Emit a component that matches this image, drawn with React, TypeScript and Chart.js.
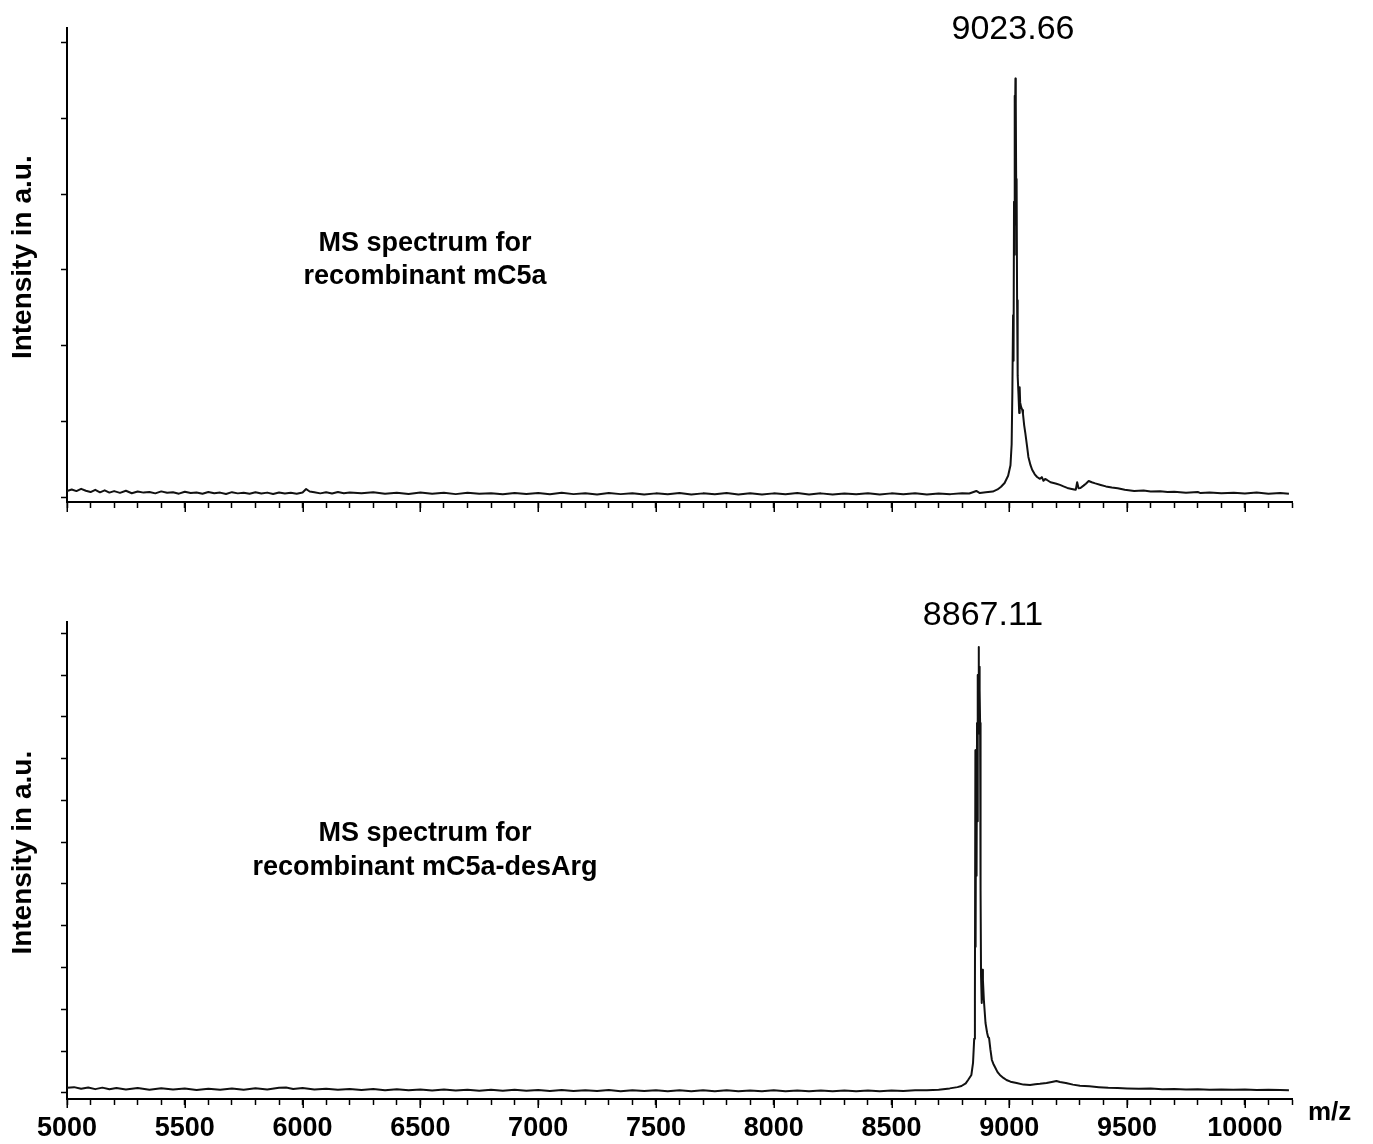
import React, { useEffect, useRef } from 'react';
import { Chart, registerables } from 'chart.js';

Chart.register(...registerables);

const FONT = '"Liberation Sans", Arial, Helvetica, sans-serif';

// ---------- axis data ----------
const X_MIN = 5000;
const X_MAX = 10200;
const X_MINOR_STEP = 100;
const X_MAJOR = [5000, 5500, 6000, 6500, 7000, 7500, 8000, 8500, 9000, 9500, 10000];
const TOP_Y_TICKS = [0, 1000, 2000, 3000, 4000, 5000, 6000];
const BOT_Y_TICKS = [0, 1000, 2000, 3000, 4000, 5000, 6000, 7000, 8000, 9000, 10000, 11000];
const Y_TITLE = '  Intensity in a.u.';

// ---------- spectrum 1 : recombinant mC5a ----------
const TOP_MZ = [
  5000, 5020, 5040, 5060, 5080, 5100, 5120, 5140, 5160, 5180, 5200, 5225, 5250, 5275, 5300, 5325,
  5350, 5375, 5400, 5425, 5450, 5475, 5500, 5525, 5550, 5575, 5600, 5625, 5650, 5675, 5700, 5725,
  5750, 5775, 5800, 5825, 5850, 5875, 5900, 5925, 5950, 5975, 6000, 6015, 6030, 6050, 6075, 6100,
  6125, 6150, 6175, 6200, 6250, 6300, 6350, 6400, 6450, 6500, 6550, 6600, 6650, 6700, 6750, 6800,
  6850, 6900, 6950, 7000, 7050, 7100, 7150, 7200, 7250, 7300, 7350, 7400, 7450, 7500, 7550, 7600,
  7650, 7700, 7750, 7800, 7850, 7900, 7950, 8000, 8050, 8100, 8150, 8200, 8250, 8300, 8350, 8400,
  8450, 8500, 8550, 8600, 8650, 8700, 8750, 8800, 8830, 8860, 8875, 8900, 8930, 8950, 8965, 8980,
  8995, 9005, 9010, 9013, 9016, 9018, 9020, 9022, 9023, 9024, 9026, 9027, 9028, 9030, 9031, 9033,
  9035, 9036, 9039, 9042, 9044, 9046, 9050, 9055, 9058, 9063, 9068, 9075, 9081, 9090, 9097, 9108,
  9118, 9130, 9138, 9145, 9152, 9160, 9175, 9188, 9200, 9215, 9230, 9246, 9260, 9275, 9282, 9288,
  9294, 9302, 9315, 9325, 9337, 9350, 9365, 9388, 9410, 9435, 9460, 9490, 9530, 9570, 9600, 9640,
  9672, 9700, 9750, 9800, 9812, 9850, 9900, 9953, 10000, 10050, 10100, 10150, 10187,
];
const TOP_INT = [
  80, 100, 78, 108, 82, 65, 95, 62, 88, 58, 78, 55, 82, 50, 72, 58,
  66, 48, 74, 55, 62, 44, 70, 52, 60, 42, 66, 50, 58, 40, 64, 48,
  56, 42, 62, 46, 58, 40, 60, 45, 55, 44, 60, 105, 72, 64, 48, 62,
  46, 66, 50, 58, 48, 62, 44, 56, 40, 58, 42, 55, 38, 56, 42, 50,
  36, 54, 40, 52, 36, 55, 38, 50, 34, 52, 38, 50, 32, 48, 36, 52,
  32, 48, 36, 52, 34, 50, 32, 48, 36, 52, 34, 48, 32, 46, 36, 50,
  32, 48, 36, 50, 34, 46, 38, 50, 46, 80, 52, 62, 72, 100, 135, 185,
  280, 420, 700, 1400, 2400, 1800, 3900, 3200, 5300, 4500, 5530, 4900, 5200, 3600, 4200, 2600,
  2000, 1600, 1350, 1110, 1450, 1250, 1190, 1150, 1100, 950, 845, 680, 530, 420, 360, 300,
  264, 240, 262, 215, 238, 225, 195, 185, 175, 160, 140, 120, 110, 100, 95, 195,
  115, 119, 150, 175, 211, 195, 180, 159, 140, 125, 115, 95, 80, 85, 72, 76,
  66, 70, 56, 66, 52, 60, 48, 56, 46, 58, 44, 52, 42,
];

// ---------- spectrum 2 : recombinant mC5a-desArg ----------
const BOT_MZ = [
  5000, 5030, 5060, 5090, 5120, 5150, 5180, 5210, 5250, 5300, 5350, 5400, 5450, 5500, 5550, 5600,
  5650, 5700, 5750, 5800, 5850, 5900, 5930, 5960, 6000, 6050, 6100, 6150, 6200, 6250, 6300, 6350,
  6400, 6450, 6500, 6550, 6600, 6650, 6700, 6750, 6800, 6850, 6900, 6950, 7000, 7050, 7100, 7150,
  7200, 7250, 7300, 7350, 7400, 7450, 7500, 7550, 7600, 7650, 7700, 7750, 7800, 7850, 7900, 7950,
  8000, 8050, 8100, 8150, 8200, 8250, 8300, 8350, 8400, 8450, 8500, 8550, 8600, 8650, 8700, 8747,
  8780, 8797, 8815, 8825, 8839, 8846, 8851, 8854, 8856, 8857, 8859, 8861, 8863, 8865, 8867, 8869,
  8870, 8871, 8872, 8874, 8876, 8877, 8878, 8879, 8880, 8883, 8886, 8888, 8892, 8899, 8904, 8906,
  8910, 8914, 8920, 8926, 8932, 8939, 8950, 8960, 8975, 8988, 9005, 9031, 9060, 9088, 9110, 9130,
  9158, 9180, 9200, 9215, 9240, 9270, 9300, 9340, 9380, 9420, 9460, 9500, 9550, 9600, 9650, 9700,
  9750, 9800, 9850, 9900, 9950, 10000, 10050, 10100, 10150, 10187,
];
const BOT_INT = [
  125, 140, 100, 132, 92, 128, 88, 120, 84, 118, 78, 112, 82, 106, 74, 104,
  76, 110, 80, 112, 84, 124, 130, 96, 118, 86, 104, 80, 98, 72, 94, 68,
  90, 64, 86, 62, 84, 58, 80, 56, 78, 54, 76, 52, 72, 50, 70, 48,
  68, 46, 70, 44, 66, 46, 68, 42, 64, 44, 66, 42, 64, 44, 62, 42,
  64, 44, 62, 40, 60, 44, 62, 42, 60, 44, 62, 46, 64, 68, 76, 110,
  140, 167, 230, 311, 431, 718, 1300, 2200, 8200, 3500, 8000, 5200, 8852, 6500, 10000, 8600,
  10670, 9000, 10200, 9641, 8852, 6500, 6000, 4856, 2800, 2153, 2950, 2700, 2225, 1675, 1500, 1435,
  1340, 1316, 1029, 789, 700, 622, 500, 431, 360, 311, 270, 239, 200, 191, 210, 220,
  239, 265, 287, 263, 240, 200, 175, 160, 140, 125, 120, 110, 100, 106, 92, 96,
  85, 90, 80, 85, 78, 82, 72, 76, 70, 68,
];

const W = 1373;

type PanelProps = {
  mz: number[];
  intensity: number[];
  yMin: number;
  yMax: number;
  yTicks: number[];
  height: number;
  top: number;
  areaTop: number;
  areaBottom: number;
  showXLabels: boolean;
  majorLen: number;
  texts: { text: string; x: number; y: number; font: string; align: CanvasTextAlign }[];
};

const overlayPlugin = {
  id: 'overlay',
  afterDraw(chart: any, _args: any, opts: any) {
    const ctx = chart.ctx;
    const xs = chart.scales.x;
    const ca = chart.chartArea;
    ctx.save();
    ctx.strokeStyle = '#000';
    ctx.lineWidth = 1.5;
    for (const v of X_MAJOR) {
      const px = Math.round(xs.getPixelForValue(v)) + 0.25;
      ctx.beginPath();
      ctx.moveTo(px, ca.bottom);
      ctx.lineTo(px, ca.bottom + opts.majorLen);
      ctx.stroke();
    }
    ctx.fillStyle = '#000';
    ctx.textBaseline = 'alphabetic';
    for (const t of opts.texts || []) {
      ctx.font = t.font;
      ctx.textAlign = t.align;
      ctx.fillText(t.text, t.x, t.y);
    }
    ctx.restore();
  },
};

function Panel(p: PanelProps) {
  const ref = useRef<HTMLCanvasElement | null>(null);
  useEffect(() => {
    if (!ref.current) return;
    const xTicks: number[] = [];
    for (let v = X_MIN; v <= X_MAX; v += X_MINOR_STEP) xTicks.push(v);
    const data = p.mz.map((x, i) => ({ x, y: p.intensity[i] }));
    const chart = new Chart(ref.current, {
      type: 'line',
      data: {
        datasets: [
          {
            data,
            borderColor: '#111',
            borderWidth: 2,
            pointRadius: 0,
            fill: false,
            tension: 0,
            borderJoinStyle: 'round',
          } as any,
        ],
      },
      options: {
        animation: false,
        responsive: false,
        events: [],
        layout: { padding: { top: p.areaTop, right: 81, left: 0, bottom: 0 } },
        plugins: {
          legend: { display: false },
          tooltip: { enabled: false },
          overlay: { majorLen: p.majorLen, texts: p.texts },
        } as any,
        scales: {
          x: {
            type: 'linear',
            min: X_MIN,
            max: X_MAX,
            afterBuildTicks: (s: any) => {
              s.ticks = xTicks.map((v) => ({ value: v }));
            },
            afterFit: (s: any) => {
              s.height = p.height - p.areaBottom;
            },
            ticks: {
              display: p.showXLabels,
              autoSkip: false,
              maxRotation: 0,
              minRotation: 0,
              padding: 7,
              color: '#000',
              font: { family: FONT, size: 27, weight: 'bold' },
              callback: (v: any) => (X_MAJOR.includes(Number(v)) ? String(v) : ''),
            },
            grid: {
              drawOnChartArea: false,
              drawTicks: true,
              tickLength: 6,
              tickWidth: 1.5,
              tickColor: '#000',
            },
            border: { display: true, color: '#000', width: 2 },
          },
          y: {
            type: 'linear',
            min: p.yMin,
            max: p.yMax,
            afterBuildTicks: (s: any) => {
              s.ticks = p.yTicks.map((v) => ({ value: v }));
            },
            afterFit: (s: any) => {
              s.width = 67;
            },
            ticks: { display: false },
            grid: {
              drawOnChartArea: false,
              drawTicks: true,
              tickLength: 6,
              tickWidth: 1.5,
              tickColor: '#000',
            },
            border: { display: true, color: '#000', width: 2 },
            title: {
              display: true,
              text: Y_TITLE,
              color: '#000',
              font: { family: FONT, size: 28, weight: 'bold' },
              padding: { top: 6, bottom: 0 },
            },
          },
        },
      },
      plugins: [overlayPlugin as any],
    });
    return () => chart.destroy();
  }, []);
  return (
    <canvas
      ref={ref}
      width={W}
      height={p.height}
      style={{ position: 'absolute', left: 0, top: p.top, width: W, height: p.height }}
    />
  );
}

export default function App() {
  const bold27 = `bold 27px ${FONT}`;
  const reg34 = `34px ${FONT}`;
  return (
    <div
      style={{
        position: 'absolute',
        left: 0,
        top: 0,
        width: W,
        height: 1144,
        background: '#fff',
        overflow: 'hidden',
      }}
    >
      <Panel
        mz={TOP_MZ}
        intensity={TOP_INT}
        yMin={-66}
        yMax={6196}
        yTicks={TOP_Y_TICKS}
        height={560}
        top={0}
        areaTop={28}
        areaBottom={502}
        showXLabels={false}
        majorLen={10}
        texts={[
          { text: '9023.66', x: 1013, y: 39, font: reg34, align: 'center' },
          { text: 'MS spectrum for', x: 425, y: 251, font: bold27, align: 'center' },
          { text: 'recombinant mC5a', x: 425, y: 284, font: bold27, align: 'center' },
        ]}
      />
      <Panel
        mz={BOT_MZ}
        intensity={BOT_INT}
        yMin={-144}
        yMax={11268}
        yTicks={BOT_Y_TICKS}
        height={584}
        top={560}
        areaTop={62}
        areaBottom={539}
        showXLabels={true}
        majorLen={9}
        texts={[
          { text: '8867.11', x: 983, y: 65, font: reg34, align: 'center' },
          { text: 'MS spectrum for', x: 425, y: 281, font: bold27, align: 'center' },
          { text: 'recombinant mC5a-desArg', x: 425, y: 315, font: bold27, align: 'center' },
          { text: 'm/z', x: 1308, y: 560, font: `bold 26px ${FONT}`, align: 'left' },
        ]}
      />
    </div>
  );
}
